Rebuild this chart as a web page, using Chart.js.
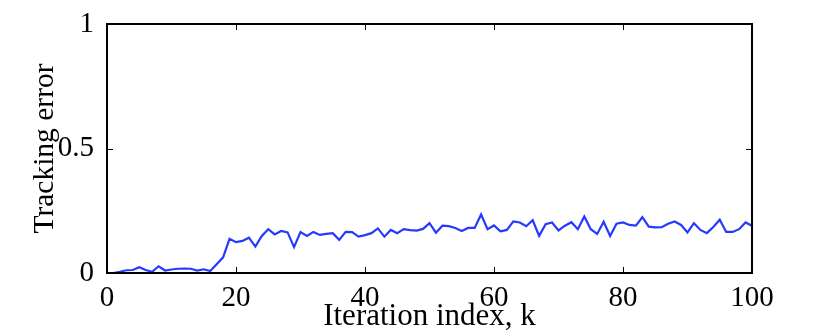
<!DOCTYPE html>
<html>
<head>
<meta charset="utf-8">
<script src="https://cdn.jsdelivr.net/npm/chart.js@4"></script>
<style>
  html, body { margin: 0; padding: 0; background: #fff; }
  #box { width: 830px; height: 332px; }
</style>
</head>
<body>
<div id="box"><canvas id="myChart"></canvas></div>
<script>
// iteration index k = 1..100
const iterations = [];
for (let k = 1; k <= 100; k++) iterations.push(k);

// tracking error
const trackingError = [
    0.000, 0.005, 0.011, 0.012, 0.023, 0.012, 0.005, 0.027, 0.010, 0.014,
    0.017, 0.018, 0.017, 0.010, 0.015, 0.008, 0.035, 0.063, 0.137, 0.124,
    0.129, 0.142, 0.106, 0.149, 0.176, 0.155, 0.169, 0.163, 0.104, 0.164,
    0.149, 0.165, 0.153, 0.157, 0.160, 0.133, 0.165, 0.164, 0.146, 0.152,
    0.160, 0.179, 0.146, 0.173, 0.160, 0.176, 0.172, 0.170, 0.177, 0.200,
    0.162, 0.190, 0.188, 0.181, 0.169, 0.181, 0.181, 0.235, 0.176, 0.191,
    0.167, 0.173, 0.207, 0.203, 0.188, 0.212, 0.149, 0.196, 0.203, 0.171,
    0.190, 0.204, 0.176, 0.227, 0.176, 0.157, 0.206, 0.149, 0.198, 0.203,
    0.193, 0.190, 0.224, 0.186, 0.183, 0.184, 0.198, 0.207, 0.193, 0.163,
    0.200, 0.173, 0.160, 0.185, 0.214, 0.165, 0.165, 0.176, 0.203, 0.190
];

const xTicks = [0, 20, 40, 60, 80, 100];
const yTicks = [0, 0.5, 1];

const serif = "'Liberation Serif', 'DejaVu Serif', serif";

// box round the plot with inward ticks on all four sides
const boxTicks = {
    id: 'boxTicks',
    afterDraw(chart) {
        const ctx = chart.ctx;
        const a = chart.chartArea;
        const xs = chart.scales.x;
        const ys = chart.scales.y;
        const len = 6;
        ctx.save();
        ctx.strokeStyle = '#000';
        ctx.lineWidth = 1;
        ctx.beginPath();
        xs.ticks.forEach(t => {
            const px = Math.round(xs.getPixelForValue(t.value)) + 0.5;
            ctx.moveTo(px, a.bottom); ctx.lineTo(px, a.bottom - len);
            ctx.moveTo(px, a.top); ctx.lineTo(px, a.top + len);
        });
        ys.ticks.forEach(t => {
            const py = Math.round(ys.getPixelForValue(t.value)) + 0.5;
            ctx.moveTo(a.left, py); ctx.lineTo(a.left + len, py);
            ctx.moveTo(a.right, py); ctx.lineTo(a.right - len, py);
        });
        ctx.stroke();
        ctx.lineWidth = 2;
        ctx.strokeRect(a.left, a.top, a.right - a.left, a.bottom - a.top);
        ctx.restore();
    }
};

const data = iterations.map((k, i) => ({x: k, y: trackingError[i]}));

new Chart(document.getElementById('myChart'), {
    type: 'line',
    data: {
        datasets: [{
            data: data,
            borderColor: '#263aff',
            borderWidth: 2.2,
            pointRadius: 0,
            tension: 0,
            fill: false
        }]
    },
    options: {
        responsive: true,
        maintainAspectRatio: false,
        animation: false,
        layout: { padding: { left: 0, right: 78, top: 24, bottom: 0 } },
        plugins: { legend: { display: false }, tooltip: { enabled: false } },
        scales: {
            x: {
                type: 'linear',
                min: 0,
                max: 100,
                afterBuildTicks: s => { s.ticks = xTicks.map(v => ({value: v})); },
                afterFit: s => { s.height = 59; },
                grid: { display: false },
                border: { display: false },
                ticks: {
                    color: '#000',
                    padding: 3,
                    maxRotation: 0,
                    callback: v => String(v),
                    font: { family: serif, size: 29, lineHeight: 1 }
                },
                title: {
                    display: true,
                    text: 'Iteration index, k',
                    color: '#000',
                    padding: { top: 0, bottom: 0 },
                    font: { family: serif, size: 31, lineHeight: 1 }
                }
            },
            y: {
                min: 0,
                max: 1,
                afterBuildTicks: s => { s.ticks = yTicks.map(v => ({value: v})); },
                afterFit: s => { s.width = 107; },
                grid: { display: false },
                border: { display: false },
                ticks: {
                    color: '#000',
                    padding: 5,
                    callback: v => String(v),
                    font: { family: serif, size: 29, lineHeight: 1 }
                },
                title: {
                    display: true,
                    text: 'Tracking error',
                    color: '#000',
                    padding: { top: 30, bottom: 0 },
                    font: { family: serif, size: 29.5, lineHeight: 1 }
                }
            }
        }
    },
    plugins: [boxTicks]
});
</script>
</body>
</html>
